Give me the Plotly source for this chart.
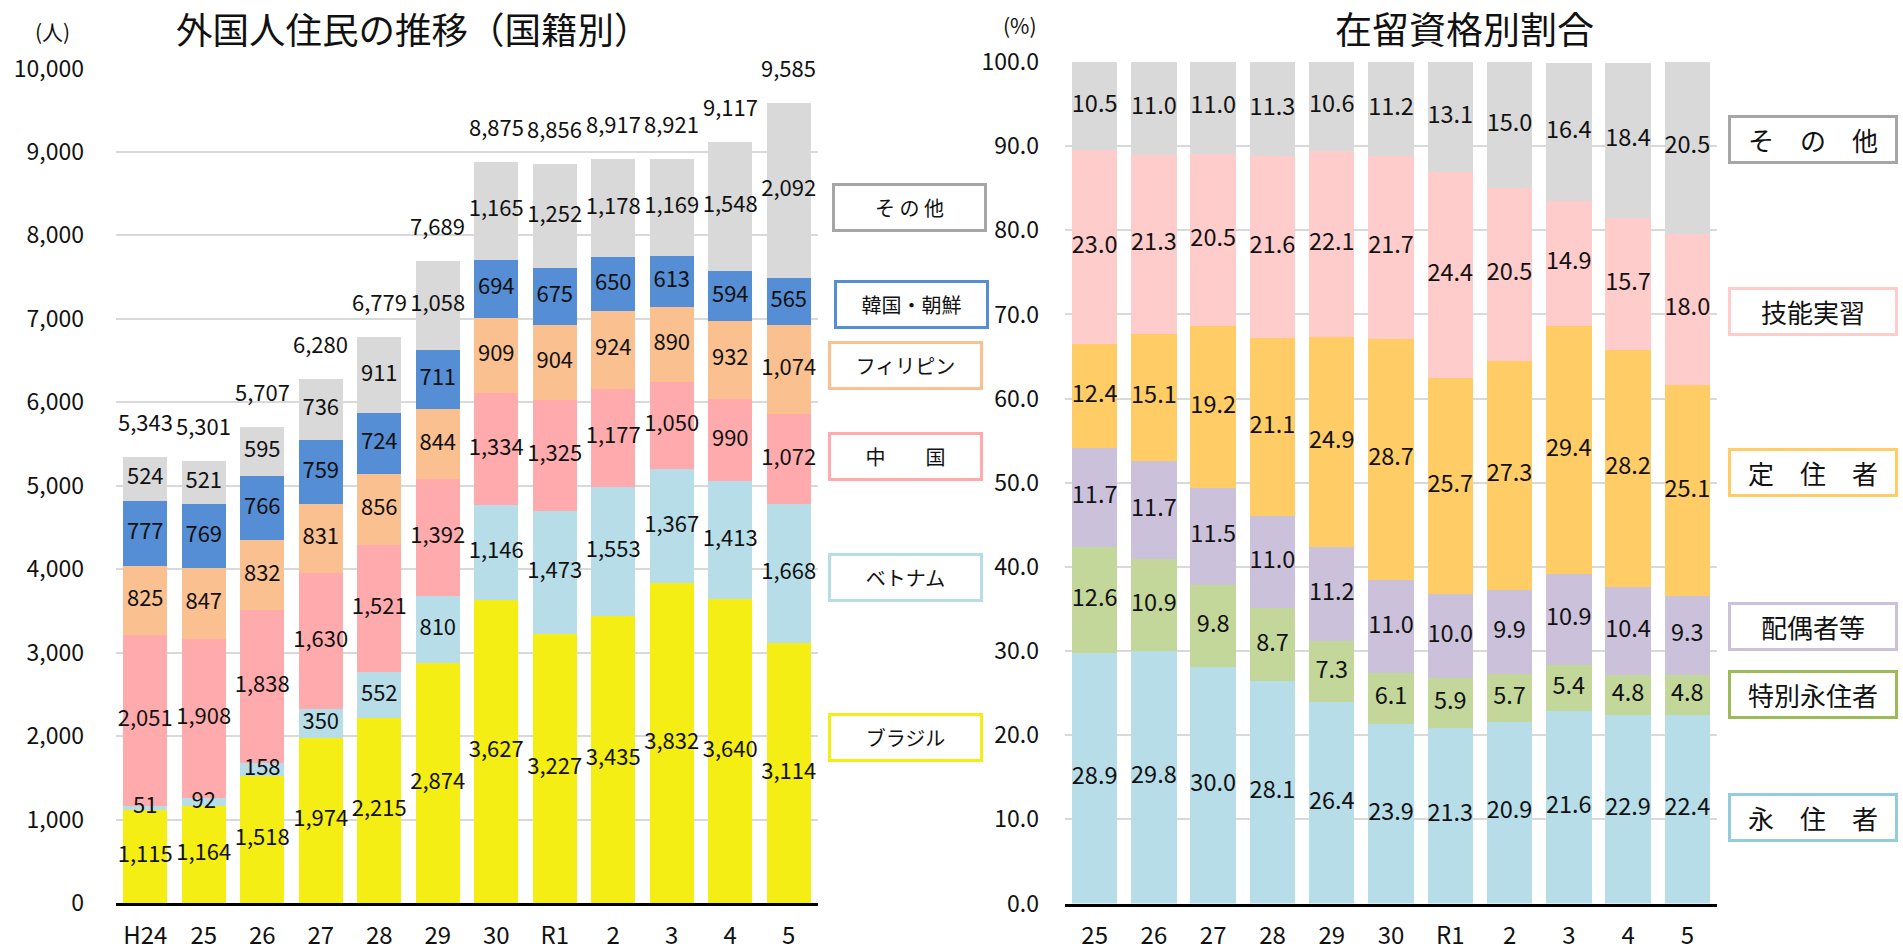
import numpy as np
import plotly.graph_objects as go

# ---------------- data: left chart (外国人住民の推移・国籍別) ----------------
years_l = ["H24", "25", "26", "27", "28", "29", "30", "R1", "2", "3", "4", "5"]
brazil = [1115, 1164, 1518, 1974, 2215, 2874, 3627, 3227, 3435, 3832, 3640, 3114]
vietnam = [51, 92, 158, 350, 552, 810, 1146, 1473, 1553, 1367, 1413, 1668]
china = [2051, 1908, 1838, 1630, 1521, 1392, 1334, 1325, 1177, 1050, 990, 1072]
philippines = [825, 847, 832, 831, 856, 844, 909, 904, 924, 890, 932, 1074]
korea = [777, 769, 766, 759, 724, 711, 694, 675, 650, 613, 594, 565]
other_l = [524, 521, 595, 736, 911, 1058, 1165, 1252, 1178, 1169, 1548, 2092]
totals_l = [5343, 5301, 5707, 6280, 6779, 7689, 8875, 8856, 8917, 8921, 9117, 9585]

# ---------------- data: right chart (在留資格別割合) ----------------
years_r = ["25", "26", "27", "28", "29", "30", "R1", "2", "3", "4", "5"]
# bar heights of 永住者 as drawn, and the label texts shown on them
permanent_bar = [29.8, 30.0, 28.1, 26.4, 23.9, 21.3, 20.9, 21.6, 22.9, 22.4, 22.4]
permanent_lbl = [28.9, 29.8, 30.0, 28.1, 26.4, 23.9, 21.3, 20.9, 21.6, 22.9, 22.4]
special_perm = [12.6, 10.9, 9.8, 8.7, 7.3, 6.1, 5.9, 5.7, 5.4, 4.8, 4.8]
spouse = [11.7, 11.7, 11.5, 11.0, 11.2, 11.0, 10.0, 9.9, 10.9, 10.4, 9.3]
long_term = [12.4, 15.1, 19.2, 21.1, 24.9, 28.7, 25.7, 27.3, 29.4, 28.2, 25.1]
trainee = [23.0, 21.3, 20.5, 21.6, 22.1, 21.7, 24.4, 20.5, 14.9, 15.7, 18.0]
other_r = [10.5, 11.0, 11.0, 11.3, 10.6, 11.2, 13.1, 15.0, 16.4, 18.4, 20.5]

FONT = "Noto Sans CJK JP"
W, H = 1903, 952

def px(x):
    return x / W

def py(y):
    return 1 - y / H

left_series = [
    ("ブラジル", brazil, brazil, "#F5EE14"),
    ("ベトナム", vietnam, vietnam, "#B7DDE8"),
    ("中国", china, china, "#FFABAD"),
    ("フィリピン", philippines, philippines, "#FAC090"),
    ("韓国・朝鮮", korea, korea, "#558ED5"),
    ("その他", other_l, other_l, "#D9D9D9"),
]
right_series = [
    ("永住者", permanent_bar, permanent_lbl, "#B7DDE8"),
    ("特別永住者", special_perm, special_perm, "#C4D79B"),
    ("配偶者等", spouse, spouse, "#CCC1DA"),
    ("定住者", long_term, long_term, "#FFCC66"),
    ("技能実習", trainee, trainee, "#FFCCCC"),
    ("その他", other_r, other_r, "#D9D9D9"),
]

fig = go.Figure()

def add_stack(series, cats, xa, ya, width, fmt, fsize):
    base = np.zeros(len(cats))
    for name, vals, lbls, color in series:
        v = np.array(vals, dtype=float)
        fig.add_trace(go.Bar(
            x=cats, y=v, name=name, marker=dict(color=color, line=dict(width=0)),
            width=width, xaxis=xa, yaxis=ya, showlegend=False, hoverinfo="skip"))
        mids = base + v / 2
        fig.add_trace(go.Scatter(
            x=cats, y=mids, mode="text", text=[fmt(t) for t in lbls],
            textposition="middle center", textfont=dict(family=FONT, size=fsize, color="#111111"),
            xaxis=xa, yaxis=ya, showlegend=False, hoverinfo="skip", cliponaxis=False))
        base = base + v

add_stack(left_series, years_l, "x", "y", 0.752, lambda t: f"{t:,}", 22)
add_stack(right_series, years_r, "x2", "y2", 0.768, lambda t: f"{t:.1f}", 23.5)

annotations = []
# totals above left bars (category index used as x position)
for i, t in enumerate(totals_l):
    annotations.append(dict(x=i, y=t, xref="x", yref="y", text=f"{t:,}", showarrow=False,
                            xanchor="center", yanchor="middle",
                            yshift=36, font=dict(family=FONT, size=22, color="#111111")))

def pa(x, y, text, size, **kw):
    d = dict(x=px(x), y=py(y), xref="paper", yref="paper", text=text, showarrow=False,
             xanchor="center", yanchor="middle", font=dict(family=FONT, size=size, color="#111111"))
    d.update(kw)
    return d

# titles and units
annotations += [
    pa(413, 28, "外国人住民の推移（国籍別）", 36.5),
    pa(1464, 28, "在留資格別割合", 37),
    pa(52, 31, "(人)", 21),
    pa(1020, 25, "(%)", 21),
]

# legend boxes
left_boxes = [
    ("そ の 他", 909, 207.5, "#A6A6A6"),
    ("韓国・朝鮮", 911, 304.7, "#558ED5"),
    ("フィリピン", 905.5, 366, "#FAC090"),
    ("中　　国", 905.5, 456.7, "#FFABAD"),
    ("ベトナム", 905.5, 577.5, "#B7DDE8"),
    ("ブラジル", 905.5, 737.8, "#F5EE14"),
]
for txt, cx, cy, col in left_boxes:
    annotations.append(pa(cx, cy, txt, 20, width=149, height=43, borderpad=0,
                          bordercolor=col, borderwidth=3, bgcolor="white"))
right_boxes = [
    ("そ　の　他", 139, "#A6A6A6"),
    ("技能実習", 312, "#FFCCCC"),
    ("定　住　者", 472, "#FFCC66"),
    ("配偶者等", 626, "#CCC1DA"),
    ("特別永住者", 694, "#9BBB59"),
    ("永　住　者", 817, "#93CDDD"),
]
for txt, cy, col in right_boxes:
    annotations.append(pa(1812.5, cy, txt, 26, width=164, height=43, borderpad=0,
                          bordercolor=col, borderwidth=3, bgcolor="white"))

tickfont = dict(family=FONT, size=23, color="#111111")
xtickfont = dict(family=FONT, size=24, color="#111111")

fig.update_layout(
    width=W, height=H, autosize=False,
    margin=dict(l=0, r=0, t=0, b=0, pad=0),
    paper_bgcolor="white", plot_bgcolor="white",
    barmode="stack",
    showlegend=False,
    annotations=annotations,
    xaxis=dict(domain=[px(116), px(818)], anchor="y", type="category", range=[-0.5, 11.5],
               showline=True, linecolor="black", linewidth=3, showgrid=False, ticks="",
               tickfont=xtickfont, ticklabelstandoff=9, automargin=False),
    yaxis=dict(domain=[py(903), py(68.5)], anchor="x", range=[0, 10000], dtick=1000,
               tickformat=",", showgrid=True, gridcolor="#D9D9D9", gridwidth=2,
               zeroline=False, showline=False, ticks="", tickfont=tickfont,
               ticklabelstandoff=31, automargin=False),
    xaxis2=dict(domain=[px(1065), px(1717)], anchor="y2", type="category", range=[-0.5, 10.5],
                showline=True, linecolor="black", linewidth=3, showgrid=False, ticks="",
                tickfont=xtickfont, ticklabelstandoff=9, automargin=False),
    yaxis2=dict(domain=[py(903.5), py(62)], anchor="x2", range=[0, 100], dtick=10,
                tickformat=".1f", showgrid=True, gridcolor="#D9D9D9", gridwidth=2,
                zeroline=False, showline=False, ticks="", tickfont=tickfont,
                ticklabelstandoff=25, automargin=False),
)

fig.write_html("out.html", post_script="document.body.style.margin='0';",
               config={"displayModeBar": False})
